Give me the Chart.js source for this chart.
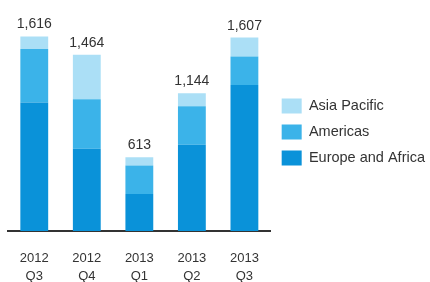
<!DOCTYPE html>
<html>
<head>
<meta charset="utf-8">
<script src="https://cdn.jsdelivr.net/npm/chart.js@4.4.0/dist/chart.umd.min.js"></script>
<style>
  html, body { margin: 0; padding: 0; background: #ffffff; }
  #wrap { width: 430px; height: 282px; position: relative; }
</style>
</head>
<body>
<div id="wrap"><canvas id="c" width="430" height="282"></canvas></div>
<script>
const categories = [["2012", "Q3"], ["2012", "Q4"], ["2013", "Q1"], ["2013", "Q2"], ["2013", "Q3"]];
const europeAfrica = [1067, 683, 307, 716, 1212];
const americas = [446, 412, 237, 320, 237];
const asiaPacific = [103, 369, 69, 108, 158];
const totals = [1616, 1464, 613, 1144, 1607];
const totalLabels = ["1,616", "1,464", "613", "1,144", "1,607"];

const totalsPlugin = {
  id: 'totals',
  afterDatasetsDraw(chart) {
    const ctx = chart.ctx;
    const x = chart.scales.x, y = chart.scales.y;
    ctx.save();
    ctx.font = '14px "Liberation Sans", Arial, sans-serif';
    ctx.fillStyle = '#333333';
    ctx.textAlign = 'center';
    ctx.textBaseline = 'alphabetic';
    totals.forEach((t, i) => {
      ctx.fillText(totalLabels[i], x.getPixelForValue(i), y.getPixelForValue(t) - 8);
    });
    ctx.restore();
  }
};

new Chart(document.getElementById('c'), {
  type: 'bar',
  data: {
    labels: categories,
    datasets: [
      { label: 'Europe and Africa', data: europeAfrica, backgroundColor: '#0a92d9' },
      { label: 'Americas', data: americas, backgroundColor: '#3bb3e9' },
      { label: 'Asia Pacific', data: asiaPacific, backgroundColor: '#abdff6' }
    ]
  },
  options: {
    responsive: false,
    animation: false,
    devicePixelRatio: 1,
    layout: { padding: { top: 33, left: 8, right: -5, bottom: 0 } },
    datasets: { bar: { categoryPercentage: 1.0, barPercentage: 0.53 } },
    scales: {
      x: {
        stacked: true,
        grid: { display: false, drawTicks: false },
        border: { display: true, color: '#333333', width: 2 },
        afterFit(scale) { scale.height = 51; },
        ticks: {
          color: '#333333',
          padding: 19,
          maxRotation: 0,
          font: { family: '"Liberation Sans", Arial, sans-serif', size: 13, lineHeight: 1.35 }
        }
      },
      y: {
        stacked: true,
        display: false,
        min: 0,
        max: 1645
      }
    },
    plugins: {
      legend: {
        position: 'right',
        fullSize: false,
        reverse: true,
        labels: {
          boxWidth: 20,
          boxHeight: 15,
          padding: 11,
          color: '#333333',
          font: { family: '"Liberation Sans", Arial, sans-serif', size: 14.5 }
        }
      },
      tooltip: { enabled: false }
    }
  },
  plugins: [totalsPlugin]
});
</script>
</body>
</html>
